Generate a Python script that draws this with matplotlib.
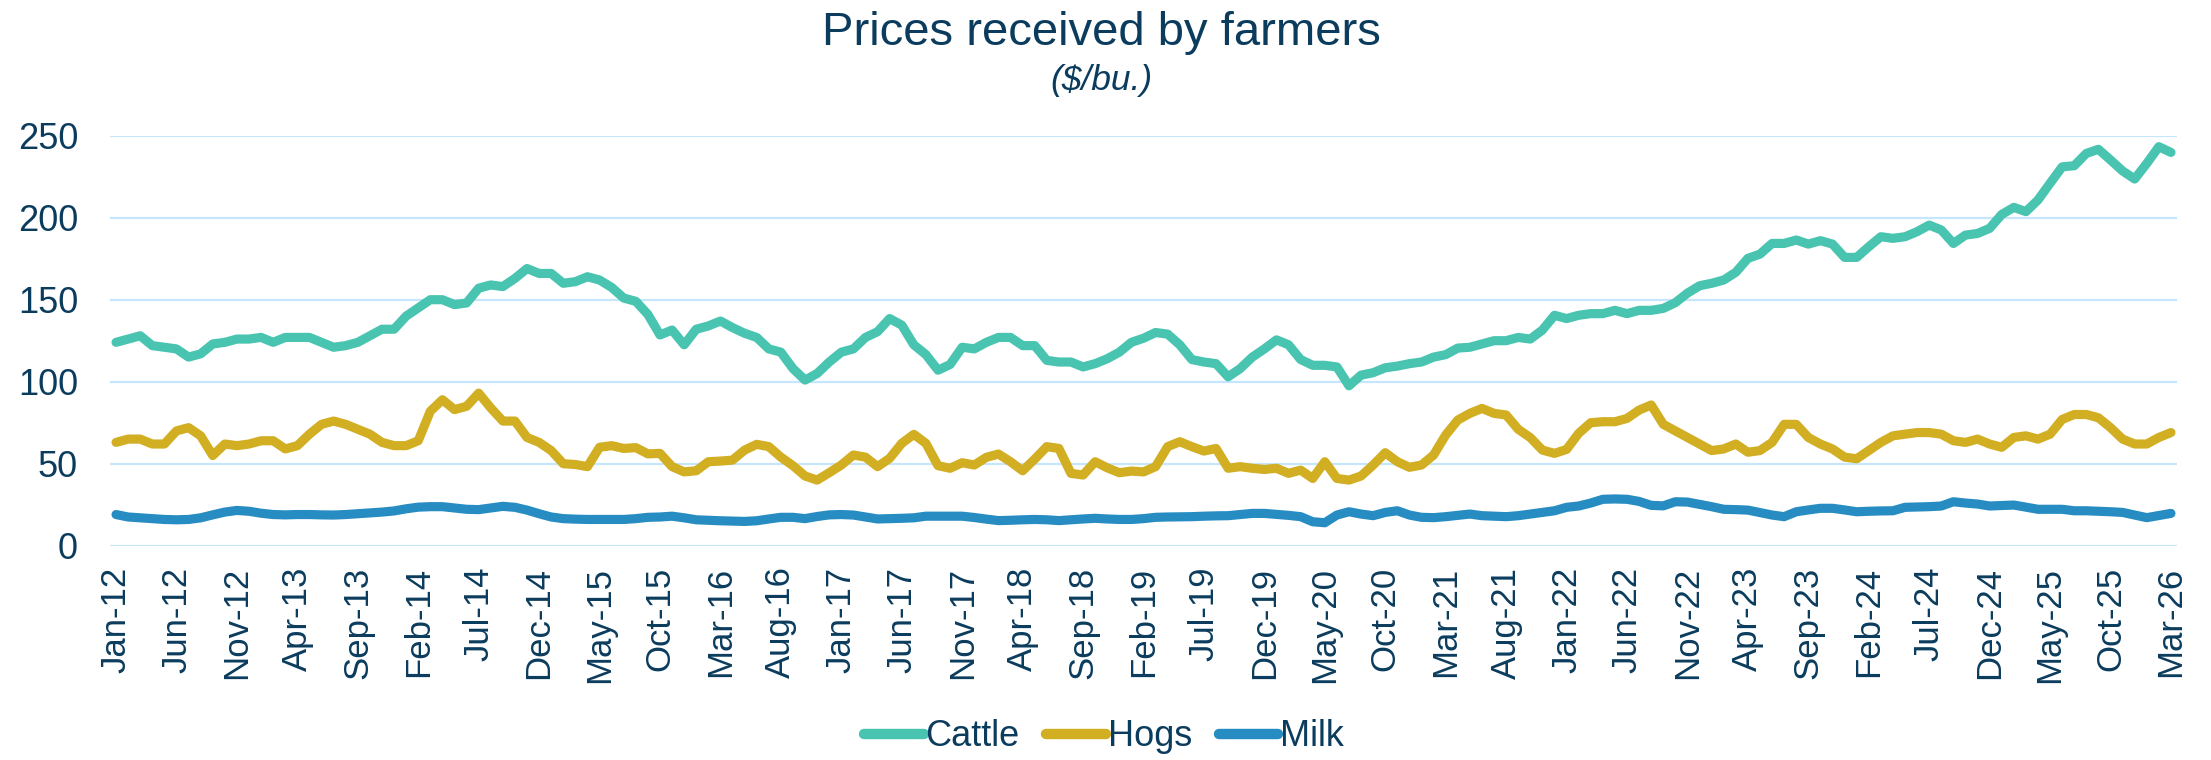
"""Prices received by farmers: monthly cattle, hogs and milk, Jan-12 to Mar-26."""
import matplotlib
matplotlib.use("Agg")
import matplotlib.pyplot as plt
import numpy as np
import pandas as pd

plt.rcParams["font.family"] = ["Liberation Sans", "DejaVu Sans"]

NAVY = "#0b3c5d"
GRID = "#c6e7fb"

# monthly values, Jan 2012 .. Mar 2026 (171 months)
cattle = [
    124, 126, 128, 122, 121, 120, 115, 117, 123, 124, 126, 126,
    127, 124, 127, 127, 127, 124, 121, 122, 124, 128, 132, 132,
    140, 145, 150, 150, 147, 148, 157, 159, 158, 163, 169, 166,
    166, 160, 161, 164, 162, 157.5, 151, 149, 141, 128.5, 131.5, 122.5,
    132, 134, 137, 133, 129.5, 127, 120, 118, 108, 101, 105, 112,
    118, 120, 127, 130.5, 138.5, 134.5, 122.5, 116.5, 107, 110.5, 121, 120,
    124, 127, 127, 122, 122, 113, 112, 112, 109, 111, 114, 118,
    124, 126.5, 130, 129, 122.5, 113.5, 112, 111, 103, 108, 115, 120,
    125.5, 122.5, 113.5, 110, 110, 109, 97.5, 104, 105.5, 108.5, 109.5, 111,
    112, 115, 116.5, 120.5, 121, 123, 125, 125, 127, 126, 131.5, 140.5,
    138.5, 140.5, 141.5, 141.5, 143.5, 141.5, 143.5, 143.5, 144.7, 148.2, 154, 158.5,
    160, 162, 166.7, 175.2, 177.8, 184.3, 184.3, 186.4, 183.9, 186, 183.9, 175.8,
    175.8, 182.3, 188.4, 187.4, 188.4, 191.5, 195.5, 192.5, 184.3, 189.4, 190.4, 193.5,
    202, 206.3, 203.7, 210.8, 221, 231, 231.7, 239.2, 241.7, 235.2, 228.5, 223.6,
    233.1, 243.3, 239.8,
]
hogs = [
    63, 65, 65, 62, 62, 70, 72, 67, 55, 62, 61, 62,
    64, 64, 59, 61, 68, 74, 76, 74, 71, 68, 63, 61,
    61, 64, 82, 89, 83, 85, 93, 84, 76, 76, 66, 63,
    58, 50, 49.5, 48.2, 60, 61, 59.3, 59.8, 56, 56.3, 48.2, 45,
    45.7, 51.2, 51.6, 52.2, 58.3, 61.8, 60.4, 54, 48.8, 42.5, 40, 44.5,
    49.2, 55.3, 54, 48.2, 53.3, 62.4, 67.9, 62.4, 48.8, 47.2, 50.6, 49.2,
    53.9, 55.9, 51.2, 45.7, 52.8, 60.4, 59.3, 44.1, 43.1, 51.2, 47.5, 44.5,
    45.5, 45, 48.2, 60.4, 63.4, 60.4, 57.7, 59.3, 47.2, 48.2, 47.2, 46.5,
    47.2, 44.1, 46.1, 41, 51.2, 41, 40, 42.5, 49.2, 56.7, 51.2, 47.8,
    49.2, 55.3, 67.5, 76.6, 80.7, 83.7, 80.7, 79.7, 71, 65.9, 58.3, 56.3,
    58.7, 68.5, 75, 75.6, 75.6, 77.6, 82.7, 85.8, 74, 70, 66, 62,
    58, 59, 62, 57, 58, 63, 74, 74, 66, 62, 59, 54,
    53, 58, 63, 67, 68, 69, 69, 68, 64, 63, 65, 62,
    60, 66, 67, 65, 68, 77, 80, 80, 78, 72, 65, 62,
    62, 66, 69,
]
milk = [
    19, 17.5, 17, 16.5, 16, 15.8, 16, 17, 18.8, 20.5, 21.5, 21,
    19.8, 19, 18.8, 19, 19, 18.8, 18.7, 19, 19.5, 20, 20.5, 21.2,
    22.5, 23.5, 23.8, 23.8, 23, 22.2, 22, 23, 24, 23.4, 21.7, 19.5,
    17.5, 16.5, 16.2, 16, 16, 16, 16, 16.5, 17.3, 17.5, 18, 17,
    15.8, 15.5, 15.2, 15, 14.8, 15.2, 16.3, 17.3, 17.3, 16.5, 17.8, 18.8,
    19, 18.7, 17.5, 16.3, 16.5, 16.7, 17, 18, 18, 18, 18, 17.2,
    16.2, 15.3, 15.5, 15.8, 16, 15.8, 15.3, 15.8, 16.3, 16.7, 16.3, 16,
    16, 16.5, 17.3, 17.5, 17.6, 17.7, 18, 18.2, 18.3, 19, 19.7, 19.7,
    19.1, 18.5, 17.7, 14.6, 14, 18.7, 20.7, 19.3, 18.3, 20.3, 21.3, 18.7,
    17.3, 17.1, 17.7, 18.5, 19.3, 18.3, 18, 17.7, 18.3, 19.3, 20.3, 21.3,
    23.4, 24.2, 26, 28.3, 28.5, 28.3, 27, 24.6, 24.3, 26.8, 26.6, 25.2,
    23.8, 22.2, 22, 21.7, 20.2, 18.7, 17.7, 20.7, 21.8, 22.8, 22.8, 21.8,
    20.7, 21, 21.2, 21.3, 23.4, 23.6, 23.8, 24.2, 26.8, 26, 25.4, 24.2,
    24.5, 24.8, 23.5, 22.2, 22.2, 22.2, 21.3, 21.3, 21, 20.7, 20.3, 18.7,
    17.1, 18.4, 19.7,
]

months = pd.date_range("2012-01-01", periods=len(cattle), freq="MS")
labels = [m.strftime("%b-%y") for m in months]
series = [("Cattle", cattle, "#48c4b1"),
          ("Hogs", hogs, "#d1ae22"),
          ("Milk", milk, "#268cc2")]

W, H = 2211, 760
fig = plt.figure(figsize=(W / 100, H / 100), dpi=100)
ax = fig.add_axes([110 / W, 214.3 / H, 2067 / W, 410 / H])

x = np.arange(len(months))
for name, vals, col in series:
    ax.plot(x, vals, color=col, lw=6.6, label=name,
            solid_capstyle="round", solid_joinstyle="round")

ax.set_xlim(-0.5, len(months) - 0.5)
ax.set_ylim(0, 250)
ax.set_yticks(range(0, 251, 50))
ticks = x[::5]
ax.set_xticks(ticks)
ax.set_xticklabels([labels[i] for i in ticks], rotation=90)
ax.tick_params(axis="x", length=0, pad=15, labelsize=25, labelcolor=NAVY)
ax.tick_params(axis="y", length=0, pad=23, labelsize=26, labelcolor=NAVY)
ax.grid(axis="y", color=GRID, lw=1.6)
ax.set_axisbelow(True)
for s in ax.spines.values():
    s.set_visible(False)

fig.text(1101.5 / W, 1 - 45 / H, "Prices received by farmers", ha="center",
         va="baseline", fontsize=34, color=NAVY)
fig.text(1101.5 / W, 1 - 90 / H, "($/bu.)", ha="center", va="baseline",
         fontsize=25.5, style="italic", color=NAVY)

leg = fig.legend(loc="center", bbox_to_anchor=(1104 / W, 1 - 737 / H),
                 ncol=3, frameon=False, fontsize=26, handlelength=1.65,
                 handletextpad=0.05, columnspacing=0.74, borderpad=0)
for t in leg.get_texts():
    t.set_color(NAVY)
for h in leg.get_lines():
    h.set_linewidth(7.5)

fig.savefig("out.png", dpi=100)
